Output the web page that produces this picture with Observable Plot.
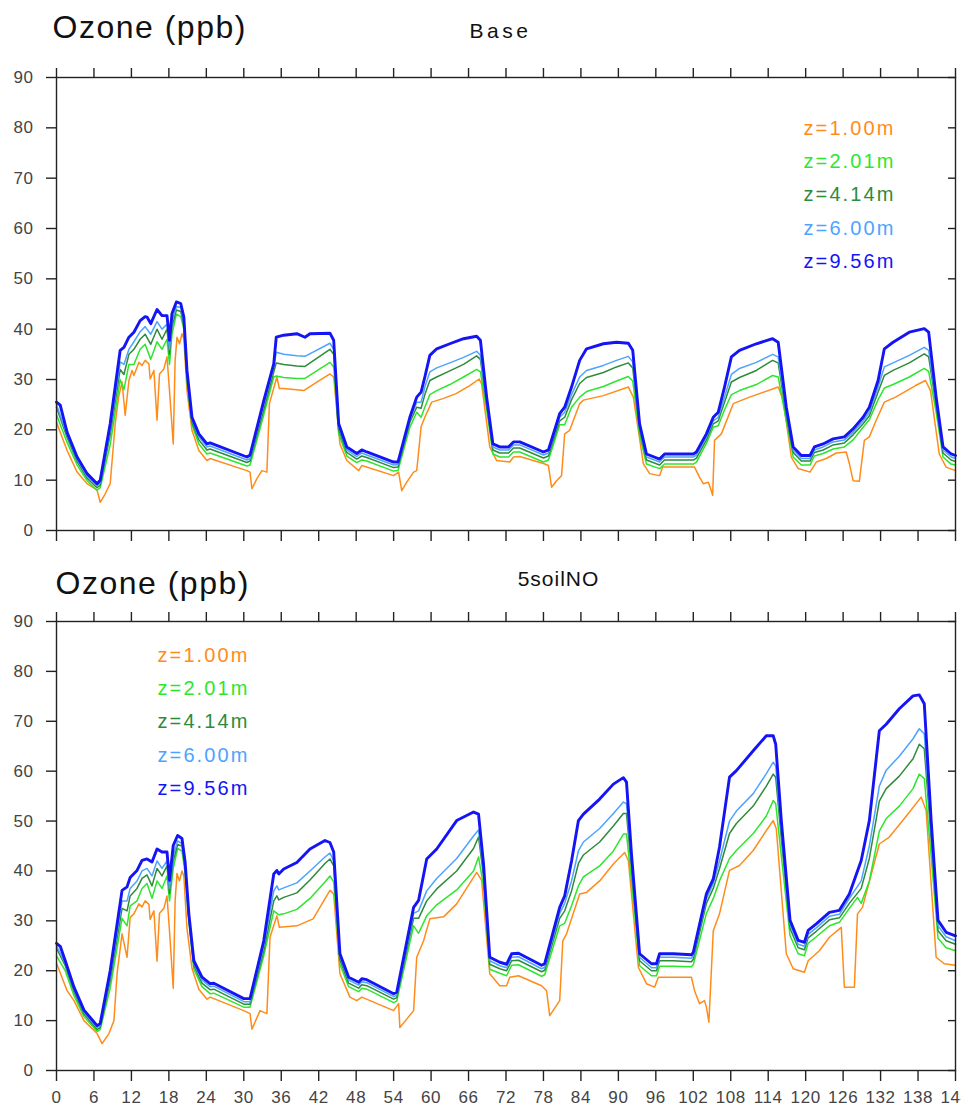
<!DOCTYPE html>
<html><head><meta charset="utf-8">
<script src="https://cdn.jsdelivr.net/npm/d3@7"></script>
<script src="https://cdn.jsdelivr.net/npm/@observablehq/plot@0.6"></script>
<style>
body{margin:0;background:#fff;}
#wrap{width:961px;height:1109px;overflow:hidden;}
#wrap svg{display:block;}
</style></head><body><div id="wrap"></div>
<script>
// ---- labels, colours, ticks ----
const seriesLabels = ["z=1.00m","z=2.01m","z=4.14m","z=6.00m","z=9.56m"];
const seriesColors = ["#ff8c1a","#2ee62e","#2e8b3a","#4da3ff","#1414f5"];
const seriesWidths = [1.5,1.5,1.5,1.5,2.9];
const panelTitles = ["Base","5soilNO"];
const xTicks = d3.range(0,145,6);
const yTicks = d3.range(0,91,10);

// ---- Base panel: [hour, ppb] ----
const baseZ100 = [[0,21.5],[1.7,15.9],[3.3,11.6],[4.9,9.3],[6.5,8],[7,5.6],[7.8,7.3],[8.6,9.3],[9.4,21.2],[9.95,26.5],[10.5,29.5],[11,22.9],[11.6,29.8],[12.1,31.8],[12.4,30.8],[13.2,33.4],[13.7,32.8],[14.2,33.8],[14.8,33.1],[15,30.1],[15.6,31.8],[16.1,21.9],[16.5,31.1],[17.2,32.1],[17.7,34.5],[18.1,27.8],[18.7,17.2],[19,33.8],[19.3,38.4],[19.7,37.1],[20.1,39.1],[20.4,38.1],[20.9,27.8],[21.7,19.9],[22.8,15.9],[24.1,13.9],[24.6,14.3],[30.5,11.9],[31,11.6],[31.3,8.3],[32.1,10.3],[32.9,11.9],[33.7,11.6],[34.1,25.2],[35.3,30.5],[35.7,28.2],[36.4,28.2],[39.6,27.8],[41.7,29.5],[43.8,31.1],[44.4,30.5],[45.4,17.2],[46.5,13.9],[48.4,11.9],[48.9,12.9],[54,10.9],[54.8,11.6],[55.3,7.9],[56.1,9.6],[57.2,11.6],[57.7,11.9],[58.4,20.6],[59,22.5],[60.1,25.5],[61.9,26.2],[64,27.2],[66.2,28.8],[67.7,30.1],[68.1,29.1],[69.4,16.6],[70.5,13.9],[72.6,13.6],[73.2,14.6],[74.2,14.7],[78,13.3],[78.8,12.9],[79.3,8.6],[80.1,9.9],[80.9,10.9],[81.4,19.2],[82.2,19.9],[83.8,25.2],[84.4,25.9],[87.6,26.8],[91.6,28.5],[92.4,26.5],[94,13.3],[95,11.3],[96.6,10.9],[97.1,12.6],[102.2,12.6],[103,10.6],[103.6,9.3],[104.4,9.6],[104.7,8.6],[105.1,7],[105.4,17.9],[106.5,19.2],[108.4,25.2],[111,26.5],[115.6,28.5],[116.4,25.9],[117.7,14.6],[118.8,12.3],[120.7,11.6],[121.7,13.6],[123.3,14.3],[124.9,15.4],[126.5,15.6],[127,13.3],[127.6,9.9],[128.6,9.8],[129.4,17.9],[130.2,18.6],[131.3,21.9],[132.6,25.5],[134.4,26.5],[137.6,28.8],[139.2,29.8],[140,27.8],[141.4,15.2],[142.5,12.6],[144,11.9]];
const baseZ201 = [[0,23],[1.7,17.5],[3.3,13],[4.9,9.9],[6.5,8],[7,8.5],[8.6,17],[10.2,30],[10.8,28],[11.6,33],[12.4,33],[13.4,36],[14.2,37],[15.1,34],[16.1,37.5],[16.9,36],[17.7,38],[18.1,33],[18.5,39],[19.2,43],[19.9,42.5],[20.4,40],[20.9,29.5],[21.7,21],[22.8,17.2],[24.1,15.2],[24.6,15.4],[30.5,12.8],[31,13],[33.2,23],[34.8,30.5],[35.2,30.7],[36.4,30.4],[38.5,30.2],[39.8,30.2],[43.8,33.4],[44.4,32.5],[45.2,19.2],[46.5,14.8],[48.1,13.5],[48.9,14],[49.7,13.8],[54,11.8],[54.7,11.9],[56.6,20.5],[57.7,23.5],[58.4,22.5],[59,24.5],[59.8,27],[60.9,27.8],[63,29],[65.2,30.5],[67.3,32],[67.9,31.5],[68.9,24],[69.9,15.2],[71,14.6],[72.4,14.6],[73.2,15.6],[74.2,15.6],[78,13.6],[78.8,14],[80.6,21],[81.4,21],[82.5,24.5],[83.8,26.5],[84.9,27.6],[87.6,28.6],[89.7,29.7],[91.6,30.6],[92.3,29.7],[93.4,19],[94.5,13.2],[96.6,12.3],[97.4,13.2],[102,13.2],[102.5,13.6],[104.1,17.3],[105.2,20.5],[106,20.8],[107,24],[108.1,27],[109.4,27.8],[112.1,29],[114.7,30.8],[115.6,30.5],[116.9,21.8],[118,14.6],[119.3,13],[120.7,13],[121.4,14.8],[122.8,15.3],[124.4,16.2],[126.2,16.6],[127.6,18],[129.2,20.5],[130.2,22],[131.6,26],[132.6,28.3],[134,29],[136.6,30.5],[139,32.2],[139.7,31.6],[140.9,23.5],[142,14.6],[143.3,13.2],[144,13]];
const baseZ414 = [[0,24.5],[1.7,18.5],[3.3,13.7],[4.9,10.4],[6.5,8.5],[7,9],[8.6,19],[10.2,32],[10.8,31],[11.6,35],[12.4,36],[13.4,38],[14.2,39],[15.1,37],[16.1,40],[16.9,38],[17.7,40],[18.1,35],[18.5,40.5],[19.2,43.8],[19.9,43.5],[20.4,41],[20.9,30.5],[21.7,21.5],[22.8,18],[24.1,16],[24.6,16.2],[30.5,13.5],[31,13.8],[33.2,24],[34.8,31.5],[35.2,33.3],[36.4,33],[38.5,32.7],[39.8,32.6],[43.8,36],[44.4,35],[45.2,20],[46.5,15.5],[48.1,14.2],[48.9,14.8],[49.7,14.5],[54,12.5],[54.7,12.6],[56.6,21.5],[57.7,24.5],[58.4,24.3],[59,27],[59.8,29.8],[60.9,30.5],[63,31.7],[65.2,33],[67.3,34.7],[67.9,34],[68.9,25],[69.9,16],[71,15.4],[72.4,15.4],[73.2,16.4],[74.2,16.4],[78,14.4],[78.8,14.8],[80.6,21.8],[81.4,22.5],[82.5,26],[83.8,29.2],[84.9,30.4],[87.6,31.4],[89.7,32.5],[91.6,33.3],[92.3,32.3],[93.4,20],[94.5,14],[96.6,13],[97.4,14],[102,14],[102.5,14.4],[104.1,18],[105.2,21.2],[106,21.8],[107,25.5],[108.1,29.5],[109.4,30.4],[112.1,31.8],[114.7,33.8],[115.6,33.3],[116.9,22.8],[118,15.5],[119.3,13.8],[120.7,13.8],[121.4,15.5],[122.8,16],[124.4,17],[126.2,17.4],[127.6,19],[129.2,21.2],[130.2,22.8],[131.6,27.5],[132.6,30.8],[134,31.8],[136.6,33.3],[139,35.1],[139.7,34.5],[140.9,24.8],[142,15.4],[143.3,14],[144,13.7]];
const baseZ600 = [[0,25],[1.7,19],[3.3,14.1],[4.9,10.8],[6.5,8.9],[7,9.5],[8.6,20],[10.2,33.5],[10.8,33],[11.6,36],[12.4,37.5],[13.4,39.5],[14.2,40.5],[15.1,39],[16.1,41.5],[16.9,40],[17.7,41],[18.1,36],[18.5,41.5],[19.2,44.5],[19.9,44.3],[20.4,41.5],[20.9,31],[21.7,22],[22.8,18.6],[24.1,16.6],[24.6,16.8],[30.5,14],[31,14.3],[33.2,25],[34.8,32.5],[35.2,35.4],[36.4,35],[38.5,34.7],[39.8,34.6],[43.8,37.2],[44.4,36],[45.2,20.6],[46.5,16],[48.1,14.7],[48.9,15.4],[49.7,15],[54,13],[54.7,13.1],[56.6,22],[57.7,25.5],[58.4,25.5],[59,28.5],[59.8,31.5],[60.9,32.3],[63,33.3],[65.2,34.4],[67.3,35.6],[67.9,34.8],[68.9,25.5],[69.9,16.6],[71,16],[72.4,16],[73.2,17],[74.2,17],[78,15],[78.8,15.4],[80.6,22.5],[81.4,23.5],[82.5,27],[83.8,30.5],[84.9,31.8],[87.6,32.8],[89.7,33.8],[91.6,34.6],[92.3,33.5],[93.4,20.6],[94.5,14.6],[96.6,13.6],[97.4,14.6],[102,14.6],[102.5,15],[104.1,18.6],[105.2,21.8],[106,22.5],[107,26.5],[108.1,31],[109.4,32.2],[112.1,33.4],[114.7,35],[115.6,34.5],[116.9,23.5],[118,16],[119.3,14.3],[120.7,14.3],[121.4,16],[122.8,16.6],[124.4,17.6],[126.2,18],[127.6,19.5],[129.2,21.8],[130.2,23.5],[131.6,28.5],[132.6,32.5],[134,33.3],[136.6,34.8],[139,36.4],[139.7,35.8],[140.9,25.5],[142,16],[143.3,14.6],[144,14.3]];
const baseZ956 = [[0,25.5],[0.6,24.9],[1.7,19.5],[3.3,14.6],[4.9,11.3],[6.5,9.3],[7,10],[8.6,21.2],[10.2,35.8],[10.8,36.4],[11.6,38.4],[12.4,39.4],[13.4,41.7],[14.2,42.5],[14.5,42.4],[15.1,41.1],[16.1,43.9],[16.9,42.7],[17.7,42.7],[18.1,37.8],[18.5,43.1],[19.2,45.4],[19.9,45.1],[20.4,42.4],[20.9,31.8],[21.7,22.5],[22.8,19.2],[24.1,17.2],[24.6,17.4],[30.5,14.6],[31,15],[33.2,25.8],[34.8,33.1],[35.2,38.4],[36.4,38.8],[38.5,39.1],[39.8,38.4],[40.6,39.1],[43.8,39.2],[44.4,37.8],[45.2,21.2],[46.5,16.6],[48.1,15.3],[48.9,16],[49.7,15.6],[54,13.6],[54.7,13.6],[56.6,22.5],[57.7,26.5],[58.4,27.5],[59,30.5],[59.8,34.8],[60.9,36.1],[63,37.1],[65.2,38.1],[67.3,38.6],[67.9,37.8],[68.9,26.5],[69.9,17.2],[71,16.6],[72.4,16.6],[73.2,17.6],[74.2,17.6],[78,15.6],[78.8,16],[80.6,23.2],[81.4,24.5],[82.5,28.5],[83.8,33.8],[84.9,36.1],[87.6,37.1],[89.7,37.4],[91.6,37.2],[92.3,35.8],[93.4,21.2],[94.5,15.2],[96.6,14.2],[97.4,15.2],[102,15.2],[102.5,15.6],[104.1,19.2],[105.2,22.5],[106,23.5],[107,28.5],[108.1,34.5],[109.4,35.8],[112.1,37.1],[114.7,38.1],[115.6,37.4],[116.9,24.5],[118,16.6],[119.3,14.9],[120.7,14.9],[121.4,16.6],[122.8,17.2],[124.4,18.2],[126.2,18.6],[127.6,20.2],[129.2,22.5],[130.2,24.5],[131.6,29.8],[132.6,36.1],[134,37.4],[136.6,39.4],[139,40.1],[139.7,39.4],[140.9,26.5],[142,16.6],[143.3,15.2],[144,14.9]];

// ---- 5soilNO panel: [hour, ppb] ----
const soilZ100 = [[0,21.5],[1.7,16],[2.8,14],[4.4,10],[6.5,7.4],[7.3,5.4],[8.4,7.4],[9.2,10],[9.7,19.4],[10.5,27.4],[11.3,22.7],[11.8,30.7],[12.4,31.4],[13.2,33.4],[13.7,32.8],[14.2,34],[14.8,33.3],[15,30.3],[15.6,32],[16.1,21.9],[16.5,31.5],[17.2,32.5],[17.7,35],[18.1,28],[18.7,16.5],[19,34],[19.3,39.5],[19.7,38],[20.1,40],[20.4,39],[20.9,28.5],[21.7,20.5],[22.8,16.3],[24.1,14.3],[24.6,14.7],[30,12],[31,11.4],[31.3,8.3],[32.6,12],[33.7,11.4],[34.2,26.7],[35.3,31],[35.7,28.7],[38.5,29],[41.1,30.4],[43.8,36.1],[44.4,35.4],[45.4,19.4],[47,14.7],[48.1,14],[48.9,14.7],[54,12],[54.8,13.4],[55,8.6],[56.1,10.3],[57.2,12],[57.7,22.7],[58.8,26],[59.8,30.4],[62,30.8],[64.1,33.4],[67.3,39.7],[68.1,38.1],[69.4,19.4],[71,17],[72.1,17],[72.6,18.7],[74,19],[77.7,17],[78.5,16],[79,11],[80.6,14],[81.1,26],[81.7,27.4],[83.8,35.4],[84.9,35.7],[87,38],[89.2,41.4],[91,43.7],[91.6,42.1],[93.2,20.7],[94.5,17.4],[95.8,16.7],[96.4,18.7],[101.7,18.7],[102.2,16],[103,13.4],[103.8,14],[104.1,12.7],[104.5,9.7],[105.2,28],[106.2,31.4],[107.8,40.1],[109.4,41.1],[111.6,44.1],[113.7,48.1],[114.8,50.1],[115.3,48.4],[116.9,23.4],[118,20.4],[119.8,19.7],[120.4,22],[122.2,24],[123.8,26.7],[125.7,28.7],[126.2,16.7],[127.8,16.7],[128.3,31.4],[129.1,32.7],[131.8,45.4],[133.4,46.8],[136,50.8],[138.5,54.8],[139.3,52.1],[140.9,22.7],[142.2,21.4],[144,21.1]];
const soilZ201 = [[0,23],[1.4,20],[2.8,15],[4.4,10.8],[6.5,7.8],[7,8.2],[8.6,16.5],[10.5,30.5],[11.3,29],[11.8,33],[12.9,34],[13.7,36.5],[14.5,37.5],[15.3,34.5],[16.1,38],[16.9,36.5],[17.7,39],[18.1,34],[18.7,40.5],[19.4,44.5],[20.1,44],[20.6,39.5],[21.2,29.8],[22,20.3],[23.3,16.8],[24.6,15.4],[25.2,15.5],[30,12.7],[31,12.7],[33.2,23],[34.8,32],[35.3,31.5],[35.6,31.2],[36.4,31.4],[38.5,32.3],[40.6,34.5],[43,37.8],[43.8,39],[44.4,37.8],[45.4,21.3],[46.8,16.8],[48.4,15.8],[48.9,16.5],[49.7,16.3],[54,13.6],[54.5,13.9],[57.2,29],[58,27.5],[59.3,31],[60.9,33.2],[64.1,36.2],[66.8,40],[67.6,42.8],[68.4,37],[69.4,20.3],[71,19.5],[72.1,19],[72.9,21.1],[74,21.2],[77.7,18.9],[78.2,19.2],[80.6,29],[81.4,29.5],[82.5,33],[83.6,37],[84.4,38.8],[87,41],[89.2,44],[90.8,47.4],[91.3,47.4],[92.1,38],[93.4,21],[95.3,19],[96.1,19],[96.6,20.9],[98.8,20.9],[101.7,20.8],[102,21.2],[104.1,31.5],[105.2,34.5],[106.2,38],[107.8,42.5],[108.9,44.1],[111.6,47.5],[113.7,51],[114.8,54.1],[115.2,53.5],[116.1,43],[117.5,27],[118.8,23.4],[119.8,23],[120.4,25.5],[121.7,26.8],[123.8,29],[125.4,29.7],[127,32.5],[128.3,34.7],[128.9,33.5],[130.2,38],[131.8,48],[132.9,50.5],[135,53],[137.2,56.5],[138.2,59.4],[139,58.5],[140.1,43],[141.2,26.5],[142.5,24.6],[144,24]];
const soilZ414 = [[0,24.5],[1.4,21],[2.8,15.8],[4.4,11.3],[6.5,8.2],[7,8.6],[8.6,18],[10.5,32.5],[11.3,32],[11.8,35],[12.9,36.5],[13.7,38.5],[14.5,39.2],[15.3,37],[16.1,40.5],[16.9,39],[17.7,41],[18.1,35.5],[18.7,42],[19.4,45.3],[20.1,45],[20.6,40.5],[21.2,30.5],[22,21],[23.3,17.5],[24.6,16.2],[25.2,16.3],[30,13.3],[31,13.3],[33.2,24],[34.8,34],[35.3,35],[35.6,34.2],[36.4,34.7],[38.5,35.6],[40.6,38.2],[43,41.5],[43.8,42.4],[44.4,41],[45.4,22.2],[46.8,17.5],[48.4,16.5],[48.9,17.2],[49.7,17],[54,14.3],[54.5,14.6],[57.2,30.5],[58,30.5],[59.3,34],[60.9,36.4],[64.1,40],[66.8,44.5],[67.6,46.8],[68.4,39],[69.4,21.3],[71,20.4],[72.1,20],[72.9,22],[74,22.1],[77.7,19.8],[78.2,20.1],[80.6,30.5],[81.4,32],[82.5,36],[83.6,41.5],[84.4,43.2],[87,45.8],[89.2,49],[90.8,51.5],[91.3,51.5],[92.1,40.5],[93.4,22],[95.3,20],[96.1,20],[96.6,22],[98.8,22],[101.7,21.8],[102,22.3],[104.1,33.5],[105.2,36.5],[106.2,40.5],[107.8,47.5],[108.9,49.5],[111.6,53],[113.7,57],[114.8,59.4],[115.2,58.8],[116.1,46.5],[117.5,28.5],[118.8,24.6],[119.8,24.2],[120.4,26.6],[121.7,27.9],[123.8,30.2],[125.4,30.6],[127,33.5],[128.9,36.5],[130.2,42.5],[131.8,54],[132.9,56.5],[135,59],[137.2,62.5],[138.2,65.4],[139,64.5],[140.1,46.5],[141.2,28],[142.5,26],[144,25.3]];
const soilZ600 = [[0,25],[1.4,21.5],[2.8,16.2],[4.4,11.7],[6.5,8.6],[7,9],[8.6,19],[10.5,34],[11.3,34],[11.8,36.5],[12.9,38],[13.7,40],[14.5,40.5],[15.3,39],[16.1,42],[16.9,40.5],[17.7,42],[18.1,36.5],[18.7,43],[19.4,46],[20.1,45.5],[20.6,41],[21.2,31],[22,21.5],[23.3,18.1],[24.6,16.8],[25.2,16.9],[30,13.8],[31,13.8],[33.2,25],[34.8,36],[35.3,37],[35.6,36.2],[36.4,36.6],[38.5,37.6],[40.6,40],[43,42.8],[43.8,43.6],[44.4,42],[45.4,22.8],[46.8,18.1],[48.4,17.1],[48.9,17.8],[49.7,17.6],[54,14.8],[54.5,15.1],[57.2,31.5],[58,32],[59.3,36],[60.9,38.5],[64.1,42.5],[66.8,47],[67.6,48.2],[68.4,40],[69.4,22],[71,21],[72.1,20.6],[72.9,22.7],[74,22.8],[77.7,20.4],[78.2,20.7],[80.6,31.5],[81.4,33.5],[82.5,38],[83.6,44],[84.4,45.8],[87,48.5],[89.2,51.5],[90.8,53.8],[91.3,53.5],[92.1,42],[93.4,22.7],[95.3,20.6],[96.1,20.6],[96.6,22.7],[98.8,22.7],[101.7,22.5],[102,23],[104.1,34.5],[105.2,37.5],[106.2,42],[107.8,50],[108.9,52],[111.6,55.5],[113.7,59.5],[114.8,61.8],[115.2,61],[116.1,48],[117.5,29.3],[118.8,25.3],[119.8,24.9],[120.4,27.3],[121.7,28.6],[123.8,30.9],[125.4,31.3],[127,34.5],[128.9,38],[130.2,45],[131.8,57],[132.9,60.2],[135,63],[137.2,66.5],[138.2,68.5],[139,67.5],[140.1,48],[141.2,29],[142.5,26.8],[144,26]];
const soilZ956 = [[0,25.5],[0.6,24.9],[1.4,22],[2.8,16.7],[4.4,12.1],[6.5,9],[7,9.4],[8.6,20],[10.5,36.1],[11.3,36.8],[11.8,38.7],[12.9,40.1],[13.7,42.1],[14.5,42.4],[15.3,41.8],[16.1,44.4],[16.9,43.8],[17.7,43.8],[18.1,38.1],[18.7,45.1],[19.4,47.1],[20.1,46.5],[20.6,41.8],[21.2,31.4],[22,22],[23.3,18.7],[24.6,17.4],[25.2,17.5],[30,14.4],[31,14.4],[33.2,26],[34.8,39.4],[35.3,40.1],[35.6,39.4],[36.4,40.4],[38.5,41.7],[40.6,44.4],[43,46.1],[43.8,45.7],[44.4,43.8],[45.4,23.4],[46.8,18.7],[48.4,17.7],[48.9,18.4],[49.7,18.2],[54,15.4],[54.5,15.7],[57.2,32.7],[58,34.1],[59.3,42.4],[60.9,44.4],[64.1,50.1],[66.8,51.8],[67.6,51.4],[68.4,41.4],[69.4,22.7],[71,21.7],[72.1,21.3],[72.9,23.4],[74,23.5],[77.7,21.1],[78.2,21.4],[80.6,32.7],[81.4,35],[82.5,42],[83.6,50.1],[84.4,51.4],[87,54.4],[89.2,57.4],[90.8,58.7],[91.3,57.8],[92.1,43.4],[93.4,23.4],[95.3,21.4],[96.1,21.4],[96.6,23.4],[98.8,23.4],[101.7,23.2],[102,23.7],[104.1,35.4],[105.2,38.4],[106.2,44.8],[107.8,58.8],[108.9,60.1],[111.6,64.1],[113.7,67.1],[114.8,67.1],[115.2,65.4],[116.1,50.1],[117.5,30.1],[118.8,26.1],[119.8,25.7],[120.4,28.1],[121.7,29.4],[123.8,31.7],[125.4,32.1],[127,35.4],[128.9,42.1],[130.2,50.1],[131.8,68.1],[132.9,69.4],[135,72.5],[137.2,75.1],[138.2,75.3],[139,73.5],[140.1,50.1],[141.2,30.1],[142.5,27.7],[144,27]];

const FONT = "'Liberation Sans', Arial, Helvetica, sans-serif";

function makePanel(series, cfg) {
  const marks = [];
  series.forEach((s, i) => {
    marks.push(Plot.line(s, {x: d => d[0], y: d => d[1], stroke: seriesColors[i],
      strokeWidth: seriesWidths[i], strokeLinejoin: "round", strokeLinecap: "round"}));
  });
  marks.push(Plot.frame({stroke: "#222", strokeWidth: 1.4}));
  marks.push(Plot.axisX(xTicks, {anchor: "top", tickSize: 10, strokeWidth: 1.4, stroke: "#222", tickFormat: () => "", label: null}));
  marks.push(Plot.axisX(xTicks, {anchor: "bottom", tickSize: 11, tickPadding: 9, strokeWidth: 1.4, stroke: "#222",
    fill: "#444", fontSize: 17, label: null, tickFormat: cfg.xLabels ? (d => String(d)) : (() => "")}));
  marks.push(Plot.axisY(yTicks, {anchor: "left", tickSize: 10, tickPadding: 13, strokeWidth: 1.4, stroke: "#222",
    fill: "#444", fontSize: 17, label: null}));
  marks.push(Plot.axisY(yTicks, {anchor: "right", tickSize: -8, strokeWidth: 1.4, stroke: "#222", tickFormat: () => "", label: null}));
  // titles
  marks.push(Plot.text(["Ozone (ppb)"], {frameAnchor: "top-left", dx: cfg.titleDx, dy: cfg.titleDy,
    textAnchor: "start", lineAnchor: "bottom", fontSize: 32, fill: "#111"}));
  marks.push(Plot.text([cfg.name], {frameAnchor: "top", dx: cfg.nameDx, dy: cfg.nameDy,
    textAnchor: "middle", lineAnchor: "bottom", fontSize: 21, fill: "#111"}));
  // legend
  seriesLabels.forEach((lab, i) => {
    marks.push(Plot.text([lab], {frameAnchor: "top-left", dx: cfg.legDx, dy: cfg.legDy + i * 33.2,
      textAnchor: "start", lineAnchor: "middle", fontSize: 20, fill: seriesColors[i]}));
  });
  const svg = Plot.plot({
    width: 961, height: cfg.height,
    marginLeft: 56, marginRight: 6, marginTop: cfg.mt, marginBottom: cfg.mb,
    x: {domain: [0, 144], label: null},
    y: {domain: [0, 90], label: null},
    style: {fontFamily: FONT, background: "white", overflow: "visible"},
    marks
  });
  // letter spacing to mimic the wider original typeface
  d3.select(svg).selectAll("text").each(function() {
    const t = this.textContent;
    let ls = "0.6px";
    if (t.startsWith("z=")) ls = "2.1px";
    else if (t === "Ozone (ppb)") ls = "1.5px";
    else if (t === cfg.name) ls = cfg.nameSpacing;
    this.style.letterSpacing = ls;
  });
  return svg;
}

const wrap = document.getElementById("wrap");
wrap.appendChild(makePanel([baseZ100, baseZ201, baseZ414, baseZ600, baseZ956], {
  name: panelTitles[0], height: 555, mt: 77, mb: 25, xLabels: false, nameSpacing: "3.5px",
  titleDx: -4, titleDy: -40, nameDx: -5.5, nameDy: -40, legDx: 747, legDy: 51
}));
wrap.appendChild(makePanel([soilZ100, soilZ201, soilZ414, soilZ600, soilZ956], {
  name: panelTitles[1], height: 554, mt: 66, mb: 39, xLabels: true, nameSpacing: "1px",
  titleDx: -1, titleDy: -28, nameDx: 52.5, nameDy: -36, legDx: 101, legDy: 34
}));
</script></body></html>
